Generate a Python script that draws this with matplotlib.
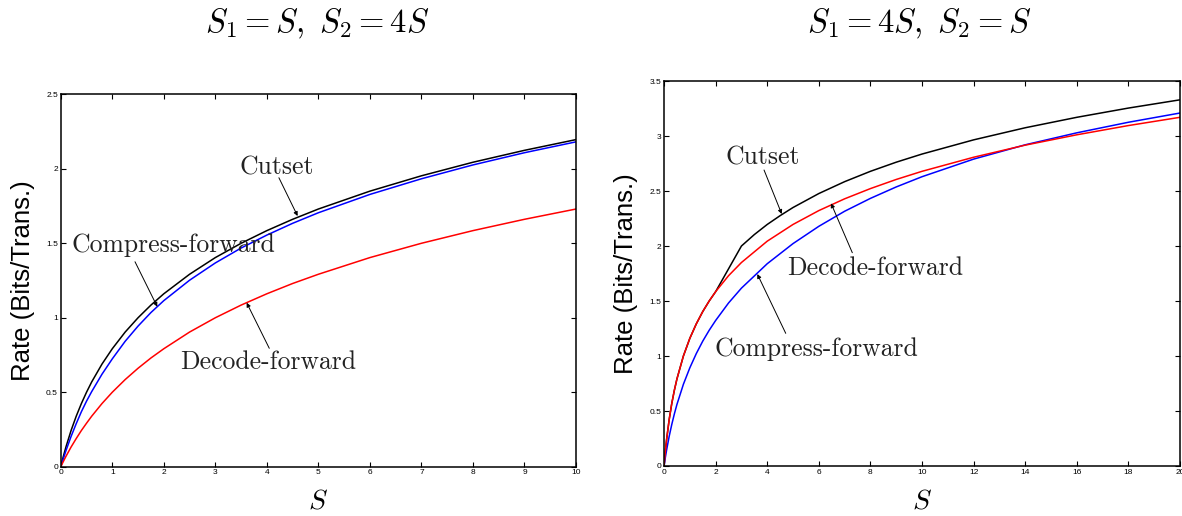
import numpy as np
import matplotlib
matplotlib.use("Agg")
import matplotlib.pyplot as plt

plt.rcParams.update({"mathtext.fontset": "cm", "font.family": ["Liberation Sans", "DejaVu Sans"]})

# --- left panel: S1 = S, S2 = 4S ---
s_left = [0, 0.05, 0.1, 0.2, 0.3, 0.4, 0.5, 0.6, 0.8, 1, 1.25, 1.5, 1.75, 2, 2.5, 3,
          3.5, 4, 4.5, 5, 6, 7, 8, 9, 10]
cutset_left = [0, 0.069, 0.132, 0.243, 0.339, 0.424, 0.5, 0.569, 0.689, 0.792, 0.904, 1.0,
               1.085, 1.161, 1.292, 1.404, 1.5, 1.585, 1.661, 1.730, 1.850, 1.953, 2.044,
               2.124, 2.196]
cf_left = [0, 0.054, 0.107, 0.203, 0.289, 0.369, 0.44, 0.504, 0.621, 0.724, 0.842, 0.944,
           1.035, 1.115, 1.252, 1.368, 1.468, 1.555, 1.634, 1.705, 1.828, 1.933, 2.026,
           2.108, 2.181]
df_left = [0, 0.035, 0.069, 0.132, 0.189, 0.243, 0.292, 0.339, 0.424, 0.5, 0.585, 0.661,
           0.730, 0.792, 0.904, 1.0, 1.085, 1.161, 1.230, 1.292, 1.404, 1.5, 1.585, 1.661,
           1.730]

# --- right panel: S1 = 4S, S2 = S ---
s_right = [0, 0.05, 0.1, 0.2, 0.3, 0.4, 0.5, 0.75, 1, 1.25, 1.5, 1.75, 2, 2.5, 3, 4, 5, 6,
           7, 8, 9, 10, 12, 14, 16, 18, 20]
df_right = [0, 0.132, 0.243, 0.424, 0.569, 0.689, 0.792, 1.0, 1.161, 1.292, 1.404, 1.5,
            1.585, 1.730, 1.850, 2.044, 2.196, 2.322, 2.429, 2.522, 2.605, 2.679, 2.807,
            2.917, 3.011, 3.095, 3.170]
cf_right = [0, 0.077, 0.146, 0.271, 0.378, 0.474, 0.560, 0.743, 0.893, 1.022, 1.135, 1.234,
            1.323, 1.482, 1.617, 1.839, 2.022, 2.179, 2.316, 2.433, 2.537, 2.630, 2.790,
            2.920, 3.029, 3.125, 3.209]
s_cut_right = [0, 0.05, 0.1, 0.2, 0.3, 0.4, 0.5, 0.75, 1, 1.25, 1.5, 1.75, 2, 3, 3.5, 4,
               4.5, 5, 6, 7, 8, 9, 10, 12, 14, 16, 18, 20]
cutset_right = [0, 0.132, 0.243, 0.424, 0.569, 0.689, 0.792, 1.0, 1.161, 1.292, 1.404, 1.5,
                1.585, 2.0, 2.104, 2.196, 2.276, 2.350, 2.477, 2.585, 2.679, 2.762, 2.836,
                2.965, 3.075, 3.170, 3.254, 3.329]

fig = plt.figure(figsize=(11.82, 5.16), dpi=100)
ax1 = fig.add_axes([0.0514, 0.0955, 0.4359, 0.7217])
ax2 = fig.add_axes([0.5618, 0.0969, 0.4365, 0.7461])

serif = dict(family="cmr10", fontsize=18.5, color="#222222")
arrow = dict(arrowstyle="-|>", lw=0.7, color="black", mutation_scale=6, shrinkA=0, shrinkB=0)


def style(ax, xmax, ymax, xt, yt):
    ax.set_xlim(0, xmax)
    ax.set_ylim(0, ymax)
    ax.set_xticks(xt)
    ax.set_xticklabels([f"{v:g}" for v in xt])
    ax.set_yticks(yt)
    ax.set_yticklabels([f"{v:g}" for v in yt])
    ax.tick_params(direction="in", top=True, right=True, length=3.5, width=0.8,
                   labelsize=6, pad=2)
    for sp in ax.spines.values():
        sp.set_linewidth(1.1)
    ax.set_ylabel("Rate (Bits/Trans.)", fontsize=18.5, labelpad=8)
    ax.set_xlabel("$S$", fontsize=20, labelpad=9)


ax1.plot(s_left, cutset_left, color="black", lw=1.1)
ax1.plot(s_left, cf_left, color="#0000ff", lw=1.1)
ax1.plot(s_left, df_left, color="#ff0000", lw=1.1)
style(ax1, 10, 2.5, list(range(0, 11)), [0, 0.5, 1, 1.5, 2, 2.5])
ax1.text(4.196, 2.005, "Cutset", ha="center", va="center", **serif)
ax1.text(2.177, 1.488, "Compress-forward", ha="center", va="center", **serif)
ax1.text(4.021, 0.703, "Decode-forward", ha="center", va="center", **serif)
ax1.annotate("", xy=(4.597, 1.683), xytext=(4.234, 1.940), arrowprops=arrow)
ax1.annotate("", xy=(1.874, 1.074), xytext=(1.441, 1.376), arrowprops=arrow)
ax1.annotate("", xy=(3.608, 1.101), xytext=(4.047, 0.795), arrowprops=arrow)

ax2.plot(s_cut_right, cutset_right, color="black", lw=1.1)
ax2.plot(s_right, cf_right, color="#0000ff", lw=1.1)
ax2.plot(s_right, df_right, color="#ff0000", lw=1.1)
style(ax2, 20, 3.5, list(range(0, 21, 2)), [0, 0.5, 1, 1.5, 2, 2.5, 3, 3.5])
ax2.text(3.837, 2.80, "Cutset", ha="center", va="center", **serif)
ax2.text(8.178, 1.80, "Decode-forward", ha="center", va="center", **serif)
ax2.text(5.891, 1.064, "Compress-forward", ha="center", va="center", **serif)
ax2.annotate("", xy=(4.562, 2.291), xytext=(3.876, 2.691), arrowprops=arrow)
ax2.annotate("", xy=(6.473, 2.388), xytext=(7.298, 1.939), arrowprops=arrow)
ax2.annotate("", xy=(3.616, 1.745), xytext=(4.717, 1.206), arrowprops=arrow)

fig.text(317 / 1182, 1 - 24 / 516, r"$S_1 = S,\ S_2 = 4S$", ha="center", va="center", fontsize=23.5)
fig.text(919 / 1182, 1 - 24 / 516, r"$S_1 = 4S,\ S_2 = S$", ha="center", va="center", fontsize=23.5)

fig.savefig("out.png", dpi=100, facecolor="white")
